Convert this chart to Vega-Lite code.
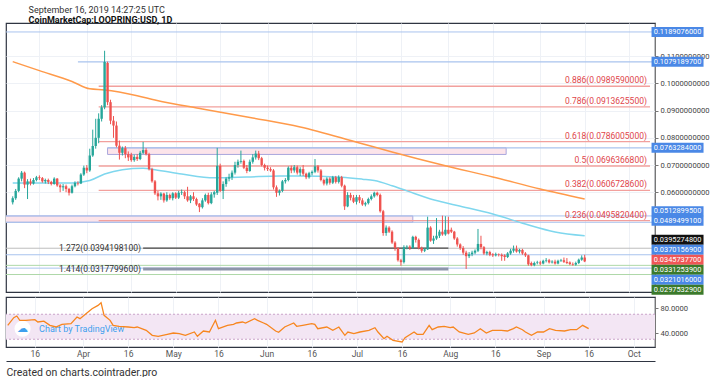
{
"$schema":"https://vega.github.io/schema/vega-lite/v6.json",
"background":"white",
"padding":{"left":4,"top":6,"right":0,"bottom":0},
"title":{"text":"September 16, 2019 14:27:25 UTC","subtitle":"CoinMarketCap:LOOPRING:USD, 1D","anchor":"start","dx":24,"fontSize":9,"fontWeight":"normal","color":"#333","subtitleFontSize":9,"subtitleFontWeight":"bold","subtitleColor":"#111","subtitlePadding":1,"offset":-3,"font":"Roboto","subtitleFont":"Roboto"},
"config":{"font":"Roboto","view":{"stroke":"#2f3542","strokeWidth":1.2},"axis":{"labelFont":"Roboto","titleFont":"Roboto"}},
"spacing":0,
"datasets":{
"candles":[
{"d":"2019-03-07","o":0.0563,"h":0.0585,"l":0.0555,"c":0.0578},
{"d":"2019-03-08","o":0.0578,"h":0.0612,"l":0.0572,"c":0.0605},
{"d":"2019-03-09","o":0.0605,"h":0.0655,"l":0.0600,"c":0.0650},
{"d":"2019-03-10","o":0.0650,"h":0.0678,"l":0.0640,"c":0.0672},
{"d":"2019-03-11","o":0.0672,"h":0.0676,"l":0.0615,"c":0.0628},
{"d":"2019-03-12","o":0.0628,"h":0.0648,"l":0.0575,"c":0.0640},
{"d":"2019-03-13","o":0.0640,"h":0.0650,"l":0.0625,"c":0.0632},
{"d":"2019-03-14","o":0.0632,"h":0.0652,"l":0.0628,"c":0.0645},
{"d":"2019-03-15","o":0.0645,"h":0.0660,"l":0.0640,"c":0.0655},
{"d":"2019-03-16","o":0.0655,"h":0.0662,"l":0.0645,"c":0.0652},
{"d":"2019-03-17","o":0.0652,"h":0.0656,"l":0.0635,"c":0.0640},
{"d":"2019-03-18","o":0.0640,"h":0.0650,"l":0.0632,"c":0.0645},
{"d":"2019-03-19","o":0.0645,"h":0.0650,"l":0.0630,"c":0.0638},
{"d":"2019-03-20","o":0.0638,"h":0.0642,"l":0.0625,"c":0.0630},
{"d":"2019-03-21","o":0.0630,"h":0.0655,"l":0.0628,"c":0.0650},
{"d":"2019-03-22","o":0.0650,"h":0.0652,"l":0.0620,"c":0.0625},
{"d":"2019-03-23","o":0.0625,"h":0.0630,"l":0.0600,"c":0.0618},
{"d":"2019-03-24","o":0.0618,"h":0.0630,"l":0.0605,"c":0.0622},
{"d":"2019-03-25","o":0.0622,"h":0.0628,"l":0.0600,"c":0.0612},
{"d":"2019-03-26","o":0.0612,"h":0.0616,"l":0.0588,"c":0.0598},
{"d":"2019-03-27","o":0.0598,"h":0.0628,"l":0.0595,"c":0.0622},
{"d":"2019-03-28","o":0.0622,"h":0.0640,"l":0.0618,"c":0.0634},
{"d":"2019-03-29","o":0.0634,"h":0.0640,"l":0.0625,"c":0.0632},
{"d":"2019-03-30","o":0.0632,"h":0.0670,"l":0.0630,"c":0.0665},
{"d":"2019-03-31","o":0.0665,"h":0.0698,"l":0.0660,"c":0.0690},
{"d":"2019-04-01","o":0.0690,"h":0.0700,"l":0.0670,"c":0.0680},
{"d":"2019-04-02","o":0.0680,"h":0.0760,"l":0.0675,"c":0.0735},
{"d":"2019-04-03","o":0.0735,"h":0.0830,"l":0.0730,"c":0.0770},
{"d":"2019-04-04","o":0.0770,"h":0.0870,"l":0.0760,"c":0.0800},
{"d":"2019-04-05","o":0.0800,"h":0.0890,"l":0.0780,"c":0.0870},
{"d":"2019-04-06","o":0.0870,"h":0.0920,"l":0.0860,"c":0.0912},
{"d":"2019-04-07","o":0.0912,"h":0.1120,"l":0.0905,"c":0.1079},
{"d":"2019-04-08","o":0.1075,"h":0.1080,"l":0.0920,"c":0.0931},
{"d":"2019-04-09","o":0.0931,"h":0.0940,"l":0.0850,"c":0.0863},
{"d":"2019-04-10","o":0.0863,"h":0.0880,"l":0.0800,"c":0.0845},
{"d":"2019-04-11","o":0.0845,"h":0.0860,"l":0.0765,"c":0.0771},
{"d":"2019-04-12","o":0.0771,"h":0.0790,"l":0.0720,"c":0.0745},
{"d":"2019-04-13","o":0.0745,"h":0.0768,"l":0.0735,"c":0.0762},
{"d":"2019-04-14","o":0.0762,"h":0.0770,"l":0.0725,"c":0.0740},
{"d":"2019-04-15","o":0.0740,"h":0.0750,"l":0.0715,"c":0.0728},
{"d":"2019-04-16","o":0.0738,"h":0.0745,"l":0.0712,"c":0.0718},
{"d":"2019-04-17","o":0.0718,"h":0.0738,"l":0.0712,"c":0.0730},
{"d":"2019-04-18","o":0.0730,"h":0.0740,"l":0.0715,"c":0.0722},
{"d":"2019-04-19","o":0.0722,"h":0.0752,"l":0.0718,"c":0.0745},
{"d":"2019-04-20","o":0.0745,"h":0.0785,"l":0.0740,"c":0.0755},
{"d":"2019-04-21","o":0.0755,"h":0.0762,"l":0.0735,"c":0.0740},
{"d":"2019-04-22","o":0.0740,"h":0.0745,"l":0.0680,"c":0.0685},
{"d":"2019-04-23","o":0.0685,"h":0.0690,"l":0.0635,"c":0.0640},
{"d":"2019-04-24","o":0.0640,"h":0.0645,"l":0.0590,"c":0.0596},
{"d":"2019-04-25","o":0.0596,"h":0.0605,"l":0.0570,"c":0.0585},
{"d":"2019-04-26","o":0.0585,"h":0.0600,"l":0.0572,"c":0.0595},
{"d":"2019-04-27","o":0.0595,"h":0.0598,"l":0.0562,"c":0.0570},
{"d":"2019-04-28","o":0.0570,"h":0.0600,"l":0.0565,"c":0.0590},
{"d":"2019-04-29","o":0.0590,"h":0.0595,"l":0.0572,"c":0.0578},
{"d":"2019-04-30","o":0.0578,"h":0.0600,"l":0.0570,"c":0.0596},
{"d":"2019-05-01","o":0.0596,"h":0.0600,"l":0.0575,"c":0.0580},
{"d":"2019-05-02","o":0.0580,"h":0.0605,"l":0.0575,"c":0.0598},
{"d":"2019-05-03","o":0.0598,"h":0.0610,"l":0.0590,"c":0.0600},
{"d":"2019-05-04","o":0.0600,"h":0.0605,"l":0.0575,"c":0.0585},
{"d":"2019-05-05","o":0.0585,"h":0.0620,"l":0.0565,"c":0.0570},
{"d":"2019-05-06","o":0.0570,"h":0.0590,"l":0.0560,"c":0.0585},
{"d":"2019-05-07","o":0.0585,"h":0.0600,"l":0.0568,"c":0.0575},
{"d":"2019-05-08","o":0.0575,"h":0.0580,"l":0.0550,"c":0.0555},
{"d":"2019-05-09","o":0.0558,"h":0.0560,"l":0.0527,"c":0.0545},
{"d":"2019-05-10","o":0.0545,"h":0.0578,"l":0.0540,"c":0.0570},
{"d":"2019-05-11","o":0.0570,"h":0.0595,"l":0.0565,"c":0.0590},
{"d":"2019-05-12","o":0.0590,"h":0.0598,"l":0.0555,"c":0.0560},
{"d":"2019-05-13","o":0.0560,"h":0.0600,"l":0.0556,"c":0.0592},
{"d":"2019-05-14","o":0.0592,"h":0.0605,"l":0.0580,"c":0.0600},
{"d":"2019-05-15","o":0.0598,"h":0.0763,"l":0.0590,"c":0.0697},
{"d":"2019-05-16","o":0.0697,"h":0.0705,"l":0.0600,"c":0.0605},
{"d":"2019-05-17","o":0.0605,"h":0.0640,"l":0.0575,"c":0.0630},
{"d":"2019-05-18","o":0.0630,"h":0.0655,"l":0.0620,"c":0.0650},
{"d":"2019-05-19","o":0.0650,"h":0.0668,"l":0.0640,"c":0.0655},
{"d":"2019-05-20","o":0.0655,"h":0.0680,"l":0.0645,"c":0.0672},
{"d":"2019-05-21","o":0.0672,"h":0.0712,"l":0.0665,"c":0.0700},
{"d":"2019-05-22","o":0.0700,"h":0.0720,"l":0.0690,"c":0.0712},
{"d":"2019-05-23","o":0.0712,"h":0.0753,"l":0.0705,"c":0.0715},
{"d":"2019-05-24","o":0.0715,"h":0.0720,"l":0.0685,"c":0.0690},
{"d":"2019-05-25","o":0.0690,"h":0.0700,"l":0.0670,"c":0.0678},
{"d":"2019-05-26","o":0.0678,"h":0.0720,"l":0.0675,"c":0.0712},
{"d":"2019-05-27","o":0.0712,"h":0.0740,"l":0.0705,"c":0.0728},
{"d":"2019-05-28","o":0.0728,"h":0.0753,"l":0.0720,"c":0.0742},
{"d":"2019-05-29","o":0.0742,"h":0.0752,"l":0.0718,"c":0.0725},
{"d":"2019-05-30","o":0.0725,"h":0.0730,"l":0.0695,"c":0.0700},
{"d":"2019-05-31","o":0.0700,"h":0.0705,"l":0.0680,"c":0.0690},
{"d":"2019-06-01","o":0.0690,"h":0.0698,"l":0.0678,"c":0.0685},
{"d":"2019-06-02","o":0.0685,"h":0.0692,"l":0.0675,"c":0.0680},
{"d":"2019-06-03","o":0.0680,"h":0.0685,"l":0.0610,"c":0.0618},
{"d":"2019-06-04","o":0.0618,"h":0.0625,"l":0.0583,"c":0.0598},
{"d":"2019-06-05","o":0.0598,"h":0.0610,"l":0.0588,"c":0.0605},
{"d":"2019-06-06","o":0.0605,"h":0.0645,"l":0.0600,"c":0.0640},
{"d":"2019-06-07","o":0.0640,"h":0.0652,"l":0.0632,"c":0.0645},
{"d":"2019-06-08","o":0.0645,"h":0.0695,"l":0.0640,"c":0.0690},
{"d":"2019-06-09","o":0.0690,"h":0.0698,"l":0.0670,"c":0.0680},
{"d":"2019-06-10","o":0.0680,"h":0.0700,"l":0.0672,"c":0.0692},
{"d":"2019-06-11","o":0.0692,"h":0.0698,"l":0.0665,"c":0.0672},
{"d":"2019-06-12","o":0.0672,"h":0.0692,"l":0.0660,"c":0.0685},
{"d":"2019-06-13","o":0.0685,"h":0.0700,"l":0.0660,"c":0.0668},
{"d":"2019-06-14","o":0.0668,"h":0.0672,"l":0.0648,"c":0.0655},
{"d":"2019-06-15","o":0.0655,"h":0.0675,"l":0.0650,"c":0.0670},
{"d":"2019-06-16","o":0.0670,"h":0.0680,"l":0.0662,"c":0.0675},
{"d":"2019-06-17","o":0.0675,"h":0.0722,"l":0.0670,"c":0.0695},
{"d":"2019-06-18","o":0.0695,"h":0.0700,"l":0.0672,"c":0.0680},
{"d":"2019-06-19","o":0.0680,"h":0.0685,"l":0.0640,"c":0.0645},
{"d":"2019-06-20","o":0.0645,"h":0.0650,"l":0.0625,"c":0.0632},
{"d":"2019-06-21","o":0.0632,"h":0.0655,"l":0.0625,"c":0.0650},
{"d":"2019-06-22","o":0.0650,"h":0.0655,"l":0.0628,"c":0.0635},
{"d":"2019-06-23","o":0.0635,"h":0.0660,"l":0.0630,"c":0.0655},
{"d":"2019-06-24","o":0.0655,"h":0.0660,"l":0.0632,"c":0.0638},
{"d":"2019-06-25","o":0.0638,"h":0.0662,"l":0.0632,"c":0.0655},
{"d":"2019-06-26","o":0.0655,"h":0.0660,"l":0.0618,"c":0.0624},
{"d":"2019-06-27","o":0.0624,"h":0.0628,"l":0.0535,"c":0.0548},
{"d":"2019-06-28","o":0.0548,"h":0.0600,"l":0.0545,"c":0.0590},
{"d":"2019-06-29","o":0.0590,"h":0.0598,"l":0.0570,"c":0.0580},
{"d":"2019-06-30","o":0.0580,"h":0.0590,"l":0.0560,"c":0.0565},
{"d":"2019-07-01","o":0.0565,"h":0.0590,"l":0.0555,"c":0.0582},
{"d":"2019-07-02","o":0.0582,"h":0.0590,"l":0.0560,"c":0.0570},
{"d":"2019-07-03","o":0.0570,"h":0.0578,"l":0.0550,"c":0.0555},
{"d":"2019-07-04","o":0.0555,"h":0.0565,"l":0.0548,"c":0.0560},
{"d":"2019-07-05","o":0.0560,"h":0.0580,"l":0.0555,"c":0.0575},
{"d":"2019-07-06","o":0.0575,"h":0.0592,"l":0.0570,"c":0.0585},
{"d":"2019-07-07","o":0.0585,"h":0.0602,"l":0.0580,"c":0.0598},
{"d":"2019-07-08","o":0.0598,"h":0.0602,"l":0.0585,"c":0.0590},
{"d":"2019-07-09","o":0.0590,"h":0.0595,"l":0.0525,"c":0.0530},
{"d":"2019-07-10","o":0.0530,"h":0.0535,"l":0.0440,"c":0.0450},
{"d":"2019-07-11","o":0.0450,"h":0.0478,"l":0.0440,"c":0.0470},
{"d":"2019-07-12","o":0.0470,"h":0.0475,"l":0.0450,"c":0.0455},
{"d":"2019-07-13","o":0.0455,"h":0.0460,"l":0.0410,"c":0.0415},
{"d":"2019-07-14","o":0.0415,"h":0.0420,"l":0.0385,"c":0.0395},
{"d":"2019-07-15","o":0.0395,"h":0.0398,"l":0.0345,"c":0.0350},
{"d":"2019-07-16","o":0.0350,"h":0.0355,"l":0.0330,"c":0.0343},
{"d":"2019-07-17","o":0.0343,"h":0.0405,"l":0.0338,"c":0.0398},
{"d":"2019-07-18","o":0.0398,"h":0.0405,"l":0.0390,"c":0.0400},
{"d":"2019-07-19","o":0.0400,"h":0.0405,"l":0.0388,"c":0.0395},
{"d":"2019-07-20","o":0.0395,"h":0.0440,"l":0.0392,"c":0.0436},
{"d":"2019-07-21","o":0.0436,"h":0.0440,"l":0.0415,"c":0.0425},
{"d":"2019-07-22","o":0.0425,"h":0.0430,"l":0.0390,"c":0.0395},
{"d":"2019-07-23","o":0.0395,"h":0.0400,"l":0.0378,"c":0.0385},
{"d":"2019-07-24","o":0.0385,"h":0.0395,"l":0.0380,"c":0.0390},
{"d":"2019-07-25","o":0.0390,"h":0.0510,"l":0.0388,"c":0.0470},
{"d":"2019-07-26","o":0.0470,"h":0.0475,"l":0.0418,"c":0.0422},
{"d":"2019-07-27","o":0.0422,"h":0.0440,"l":0.0410,"c":0.0430},
{"d":"2019-07-28","o":0.0430,"h":0.0505,"l":0.0425,"c":0.0440},
{"d":"2019-07-29","o":0.0440,"h":0.0462,"l":0.0432,"c":0.0455},
{"d":"2019-07-30","o":0.0455,"h":0.0514,"l":0.0440,"c":0.0445},
{"d":"2019-07-31","o":0.0445,"h":0.0512,"l":0.0440,"c":0.0462},
{"d":"2019-08-01","o":0.0462,"h":0.0510,"l":0.0445,"c":0.0448},
{"d":"2019-08-02","o":0.0462,"h":0.0470,"l":0.0450,"c":0.0455},
{"d":"2019-08-03","o":0.0455,"h":0.0458,"l":0.0425,"c":0.0430},
{"d":"2019-08-04","o":0.0430,"h":0.0435,"l":0.0400,"c":0.0408},
{"d":"2019-08-05","o":0.0408,"h":0.0412,"l":0.0388,"c":0.0395},
{"d":"2019-08-06","o":0.0395,"h":0.0402,"l":0.0370,"c":0.0378},
{"d":"2019-08-07","o":0.0378,"h":0.0385,"l":0.0318,"c":0.0365},
{"d":"2019-08-08","o":0.0365,"h":0.0380,"l":0.0358,"c":0.0372},
{"d":"2019-08-09","o":0.0372,"h":0.0385,"l":0.0365,"c":0.0378},
{"d":"2019-08-10","o":0.0378,"h":0.0390,"l":0.0372,"c":0.0385},
{"d":"2019-08-11","o":0.0385,"h":0.0465,"l":0.0380,"c":0.0410},
{"d":"2019-08-12","o":0.0410,"h":0.0440,"l":0.0390,"c":0.0398},
{"d":"2019-08-13","o":0.0398,"h":0.0402,"l":0.0370,"c":0.0375},
{"d":"2019-08-14","o":0.0375,"h":0.0385,"l":0.0368,"c":0.0380},
{"d":"2019-08-15","o":0.0380,"h":0.0385,"l":0.0365,"c":0.0370},
{"d":"2019-08-16","o":0.0372,"h":0.0376,"l":0.0362,"c":0.0368},
{"d":"2019-08-17","o":0.0368,"h":0.0378,"l":0.0364,"c":0.0372},
{"d":"2019-08-18","o":0.0372,"h":0.0375,"l":0.0364,"c":0.0370},
{"d":"2019-08-19","o":0.0370,"h":0.0375,"l":0.0348,"c":0.0365},
{"d":"2019-08-20","o":0.0368,"h":0.0372,"l":0.0348,"c":0.0362},
{"d":"2019-08-21","o":0.0362,"h":0.0380,"l":0.0358,"c":0.0375},
{"d":"2019-08-22","o":0.0375,"h":0.0392,"l":0.0370,"c":0.0385},
{"d":"2019-08-23","o":0.0385,"h":0.0404,"l":0.0378,"c":0.0392},
{"d":"2019-08-24","o":0.0392,"h":0.0404,"l":0.0378,"c":0.0382},
{"d":"2019-08-25","o":0.0382,"h":0.0392,"l":0.0375,"c":0.0388},
{"d":"2019-08-26","o":0.0388,"h":0.0392,"l":0.0370,"c":0.0375},
{"d":"2019-08-27","o":0.0375,"h":0.0380,"l":0.0362,"c":0.0368},
{"d":"2019-08-28","o":0.0368,"h":0.0370,"l":0.0330,"c":0.0335},
{"d":"2019-08-29","o":0.0340,"h":0.0345,"l":0.0328,"c":0.0332},
{"d":"2019-08-30","o":0.0332,"h":0.0345,"l":0.0328,"c":0.0340},
{"d":"2019-08-31","o":0.0340,"h":0.0348,"l":0.0335,"c":0.0342},
{"d":"2019-09-01","o":0.0342,"h":0.0348,"l":0.0332,"c":0.0338},
{"d":"2019-09-02","o":0.0338,"h":0.0352,"l":0.0335,"c":0.0348},
{"d":"2019-09-03","o":0.0348,"h":0.0358,"l":0.0342,"c":0.0350},
{"d":"2019-09-04","o":0.0350,"h":0.0355,"l":0.0338,"c":0.0342},
{"d":"2019-09-05","o":0.0342,"h":0.0350,"l":0.0338,"c":0.0345},
{"d":"2019-09-06","o":0.0345,"h":0.0352,"l":0.0334,"c":0.0338},
{"d":"2019-09-07","o":0.0338,"h":0.0352,"l":0.0335,"c":0.0348},
{"d":"2019-09-08","o":0.0348,"h":0.0355,"l":0.0344,"c":0.0350},
{"d":"2019-09-09","o":0.0350,"h":0.0360,"l":0.0340,"c":0.0344},
{"d":"2019-09-10","o":0.0344,"h":0.0358,"l":0.0336,"c":0.0340},
{"d":"2019-09-11","o":0.0342,"h":0.0346,"l":0.0332,"c":0.0336},
{"d":"2019-09-12","o":0.0336,"h":0.0342,"l":0.0330,"c":0.0334},
{"d":"2019-09-13","o":0.0334,"h":0.0345,"l":0.0330,"c":0.0340},
{"d":"2019-09-14","o":0.0340,"h":0.0356,"l":0.0336,"c":0.0352},
{"d":"2019-09-15","o":0.0352,"h":0.0368,"l":0.0348,"c":0.0360},
{"d":"2019-09-16","o":0.0360,"h":0.0370,"l":0.0343,"c":0.03457}
],
"ma":[
{"d":"2019-03-07","v":0.1080,"k":"slow"},{"d":"2019-03-16","v":0.1047,"k":"slow"},{"d":"2019-03-27","v":0.1007,"k":"slow"},{"d":"2019-04-02","v":0.0980,"k":"slow"},{"d":"2019-04-07","v":0.0976,"k":"slow"},{"d":"2019-04-18","v":0.0955,"k":"slow"},{"d":"2019-04-24","v":0.0939,"k":"slow"},{"d":"2019-05-10","v":0.0906,"k":"slow"},{"d":"2019-05-27","v":0.0873,"k":"slow"},{"d":"2019-06-12","v":0.0840,"k":"slow"},{"d":"2019-07-02","v":0.0781,"k":"slow"},{"d":"2019-07-13","v":0.0748,"k":"slow"},{"d":"2019-07-30","v":0.0700,"k":"slow"},{"d":"2019-08-16","v":0.0656,"k":"slow"},{"d":"2019-09-01","v":0.0612,"k":"slow"},{"d":"2019-09-16","v":0.0575,"k":"slow"},
{"d":"2019-03-07","v":0.0634,"k":"fast"},{"d":"2019-03-27","v":0.0634,"k":"fast"},{"d":"2019-04-02","v":0.0643,"k":"fast"},{"d":"2019-04-07","v":0.0667,"k":"fast"},{"d":"2019-04-13","v":0.0683,"k":"fast"},{"d":"2019-04-20","v":0.0688,"k":"fast"},{"d":"2019-04-24","v":0.0683,"k":"fast"},{"d":"2019-05-03","v":0.0667,"k":"fast"},{"d":"2019-05-14","v":0.0653,"k":"fast"},{"d":"2019-05-25","v":0.0656,"k":"fast"},{"d":"2019-06-05","v":0.0660,"k":"fast"},{"d":"2019-06-11","v":0.0660,"k":"fast"},{"d":"2019-06-26","v":0.0655,"k":"fast"},{"d":"2019-07-03","v":0.0648,"k":"fast"},{"d":"2019-07-07","v":0.0643,"k":"fast"},{"d":"2019-07-13","v":0.0624,"k":"fast"},{"d":"2019-07-18","v":0.0605,"k":"fast"},{"d":"2019-07-26","v":0.0575,"k":"fast"},{"d":"2019-07-30","v":0.0564,"k":"fast"},{"d":"2019-08-04","v":0.0551,"k":"fast"},{"d":"2019-08-16","v":0.0520,"k":"fast"},{"d":"2019-08-27","v":0.0483,"k":"fast"},{"d":"2019-09-06","v":0.0454,"k":"fast"},{"d":"2019-09-16","v":0.0440,"k":"fast"}
],
"boxes":[
{"top":0.0763284,"bot":0.07389,"from":"2019-04-08","to":"2019-08-20T12:00:00Z"},
{"top":0.0512900,"bot":0.0489499,"from":"2019-03-01","to":"2019-07-20"}
],
"fulllines":[
{"p":0.1189076,"k":"blue"},{"p":0.0512900,"k":"blue"},{"p":0.0489499,"k":"blue"},{"p":0.0394198,"k":"gray"},{"p":0.0370157,"k":"blue"},{"p":0.0331254,"k":"green"},{"p":0.0321016,"k":"blue"},{"p":0.0297533,"k":"green"}
],
"partlines":[
{"p":0.1079190,"from":"2019-03-29","to":"2019-10-31","k":"blue"},
{"p":0.0763284,"from":"2019-04-08","to":"2019-10-31","k":"blue"},
{"p":0.0394198,"from":"2019-04-20","to":"2019-08-01","k":"dark"}
],
"thicklines":[
{"p":0.0317800,"from":"2019-04-20","to":"2019-08-01"}
],
"fib":[
{"label":"0.886(0.0989590000)","p":0.0989590},
{"label":"0.786(0.0913625500)","p":0.0913626},
{"label":"0.618(0.0786005000)","p":0.0786005},
{"label":"0.5(0.0696366800)","p":0.0696367},
{"label":"0.382(0.0606728600)","p":0.0606729},
{"label":"0.236(0.0495820400)","p":0.0495820}
],
"ext":[
{"label":"1.272(0.0394198100)","p":0.0394198},
{"label":"1.414(0.0317799600)","p":0.0317800}
],
"tags":[
{"v":"0.1189076000","at":0.1189076,"k":"blue"},
{"v":"0.1079189700","at":0.1079190,"k":"blue"},
{"v":"0.0763284000","at":0.0763284,"k":"blue"},
{"v":"0.0512899500","at":0.0530,"k":"blue"},
{"v":"0.0489499100","at":0.04955,"k":"blue"},
{"v":"0.0395274800","at":0.04256,"k":"black"},
{"v":"0.0370156900","at":0.03889,"k":"blue"},
{"v":"0.0345737700","at":0.03521,"k":"red"},
{"v":"0.0331253900","at":0.03153,"k":"green"},
{"v":"0.0321016000","at":0.02786,"k":"blue"},
{"v":"0.0297532900","at":0.02418,"k":"green"}
],
"rsi":[
{"d":"2019-03-07","v":52.3},{"d":"2019-03-09","v":64.5},{"d":"2019-03-10","v":67.2},{"d":"2019-03-11","v":60.3},{"d":"2019-03-13","v":60.3},{"d":"2019-03-16","v":61.3},{"d":"2019-03-17","v":57.6},{"d":"2019-03-19","v":59},{"d":"2019-03-21","v":52.3},{"d":"2019-03-23","v":49.6},{"d":"2019-03-25","v":53.9},{"d":"2019-03-28","v":55},{"d":"2019-03-30","v":65.6},{"d":"2019-03-31","v":62.9},{"d":"2019-04-02","v":70.9},{"d":"2019-04-04","v":78.9},{"d":"2019-04-06","v":84.2},{"d":"2019-04-07","v":88.5},{"d":"2019-04-08","v":68.3},{"d":"2019-04-10","v":60.3},{"d":"2019-04-11","v":52.3},{"d":"2019-04-13","v":50.7},{"d":"2019-04-16","v":49.6},{"d":"2019-04-18","v":48.5},{"d":"2019-04-19","v":49.6},{"d":"2019-04-22","v":44.3},{"d":"2019-04-24","v":36.3},{"d":"2019-04-26","v":34.7},{"d":"2019-04-29","v":37.9},{"d":"2019-05-01","v":40},{"d":"2019-05-03","v":38.9},{"d":"2019-05-05","v":36.3},{"d":"2019-05-08","v":41.6},{"d":"2019-05-09","v":34.7},{"d":"2019-05-11","v":43.2},{"d":"2019-05-13","v":41.6},{"d":"2019-05-15","v":60.3},{"d":"2019-05-16","v":46.9},{"d":"2019-05-19","v":52.3},{"d":"2019-05-21","v":53.9},{"d":"2019-05-22","v":56},{"d":"2019-05-24","v":57.6},{"d":"2019-05-25","v":56},{"d":"2019-05-28","v":62.9},{"d":"2019-05-29","v":60.3},{"d":"2019-05-31","v":56},{"d":"2019-06-01","v":53.9},{"d":"2019-06-04","v":43.2},{"d":"2019-06-05","v":41.1},{"d":"2019-06-07","v":49.6},{"d":"2019-06-10","v":56},{"d":"2019-06-11","v":50.7},{"d":"2019-06-13","v":52.3},{"d":"2019-06-16","v":54.9},{"d":"2019-06-17","v":53.9},{"d":"2019-06-18","v":46.9},{"d":"2019-06-21","v":49.6},{"d":"2019-06-23","v":44.3},{"d":"2019-06-25","v":49.6},{"d":"2019-06-27","v":36.3},{"d":"2019-06-28","v":41.6},{"d":"2019-06-30","v":38.9},{"d":"2019-07-02","v":41.6},{"d":"2019-07-05","v":44.3},{"d":"2019-07-07","v":48.5},{"d":"2019-07-08","v":41.6},{"d":"2019-07-10","v":30.9},{"d":"2019-07-11","v":34.7},{"d":"2019-07-13","v":28.3},{"d":"2019-07-16","v":25.6},{"d":"2019-07-17","v":32.5},{"d":"2019-07-20","v":41.6},{"d":"2019-07-21","v":37.9},{"d":"2019-07-23","v":37.9},{"d":"2019-07-25","v":52.3},{"d":"2019-07-26","v":45.3},{"d":"2019-07-28","v":49.6},{"d":"2019-07-30","v":50.7},{"d":"2019-08-01","v":48.5},{"d":"2019-08-02","v":49.6},{"d":"2019-08-04","v":41.6},{"d":"2019-08-07","v":37.9},{"d":"2019-08-09","v":40},{"d":"2019-08-11","v":46.9},{"d":"2019-08-13","v":40},{"d":"2019-08-15","v":44.3},{"d":"2019-08-18","v":44.3},{"d":"2019-08-20","v":43.2},{"d":"2019-08-22","v":46.9},{"d":"2019-08-23","v":49.6},{"d":"2019-08-25","v":45.3},{"d":"2019-08-26","v":41.6},{"d":"2019-08-28","v":36.3},{"d":"2019-08-30","v":41.6},{"d":"2019-09-01","v":41.6},{"d":"2019-09-03","v":46.9},{"d":"2019-09-05","v":44.3},{"d":"2019-09-08","v":43.2},{"d":"2019-09-10","v":45.3},{"d":"2019-09-12","v":45.3},{"d":"2019-09-14","v":52.3},{"d":"2019-09-16","v":46.9}
],
"rsiband":[{"hi":70,"lo":30}],
"rsilines":[{"v":70},{"v":30}],
"wm":[{"text":"Chart by TradingView"}]
},
"vconcat":[
{
"width":649,"height":269,
"resolve":{"scale":{"color":"independent"}},
"layer":[
{"data":{"name":"boxes"},"mark":{"type":"rect","fill":"#fce4ea","stroke":"#a9a6dc","strokeWidth":1,"clip":true},
 "encoding":{
  "x":{"field":"from","type":"temporal","scale":{"type":"utc","domain":[{"year":2019,"month":3,"date":6,"hours":10,"utc":true},{"year":2019,"month":10,"date":8,"hours":1,"utc":true}]},
   "axis":{"values":[{"year":2019,"month":3,"date":16,"utc":true},{"year":2019,"month":4,"date":1,"utc":true},{"year":2019,"month":4,"date":16,"utc":true},{"year":2019,"month":5,"date":1,"utc":true},{"year":2019,"month":5,"date":16,"utc":true},{"year":2019,"month":6,"date":1,"utc":true},{"year":2019,"month":6,"date":16,"utc":true},{"year":2019,"month":7,"date":1,"utc":true},{"year":2019,"month":7,"date":16,"utc":true},{"year":2019,"month":8,"date":1,"utc":true},{"year":2019,"month":8,"date":16,"utc":true},{"year":2019,"month":9,"date":1,"utc":true},{"year":2019,"month":9,"date":16,"utc":true},{"year":2019,"month":10,"date":1,"utc":true}],"labels":false,"ticks":false,"domain":false,"title":null,"grid":true,"gridColor":"#eef1f6"}},
  "x2":{"field":"to"},
  "y":{"field":"top","type":"quantitative","scale":{"domain":[0.02333,0.1222],"zero":false,"nice":false},
   "axis":{"orient":"right","title":null,"values":[0.06,0.07,0.08,0.09,0.1,0.11],"format":".10f","grid":true,"gridColor":"#eef1f6","domainColor":"#777","tickColor":"#777","tickSize":3,"labelFontSize":7.6,"labelColor":"#444","labelPadding":2}},
  "y2":{"field":"bot"}}},
{"data":{"name":"fulllines"},"mark":{"type":"rule","strokeWidth":1},
 "encoding":{"y":{"field":"p","type":"quantitative"},
  "color":{"field":"k","type":"nominal","scale":{"domain":["blue","green","gray"],"range":["#a9c3ee","#aed8a8","#bdbdbd"]},"legend":null}}},
{"data":{"name":"partlines"},"mark":{"type":"rule","strokeWidth":1.2,"clip":true},
 "encoding":{"x":{"field":"from","type":"temporal"},"x2":{"field":"to"},"y":{"field":"p","type":"quantitative"},
  "color":{"field":"k","type":"nominal","scale":{"domain":["blue","dark"],"range":["#a9c3ee","#4a4a4a"]},"legend":null}}},
{"data":{"name":"thicklines"},"mark":{"type":"rule","strokeWidth":3,"color":"#8e95aa"},
 "encoding":{"x":{"field":"from","type":"temporal"},"x2":{"field":"to"},"y":{"field":"p","type":"quantitative"}}},
{"data":{"name":"fib"},"mark":{"type":"rule","strokeWidth":1.4,"color":"#f2a09d"},
 "encoding":{"x":{"datum":{"year":2019,"month":4,"date":5,"utc":true},"type":"temporal"},"x2":{"datum":{"year":2019,"month":10,"date":8,"hours":1,"utc":true}},"y":{"field":"p","type":"quantitative"}}},
{"data":{"name":"ma"},"mark":{"type":"line","strokeWidth":1.5,"interpolate":"monotone"},
 "encoding":{"x":{"field":"d","type":"temporal"},"y":{"field":"v","type":"quantitative"},
  "color":{"field":"k","type":"nominal","scale":{"domain":["slow","fast"],"range":["#ff9a4a","#7fd7ee"]},"legend":null}}},
{"data":{"name":"candles"},"mark":{"type":"rule","strokeWidth":1},
 "encoding":{"x":{"field":"d","type":"temporal"},"y":{"field":"l","type":"quantitative"},"y2":{"field":"h"},
  "color":{"condition":{"test":"datum.c >= datum.o","value":"#26a69a"},"value":"#ef5350"}}},
{"data":{"name":"candles"},"mark":{"type":"bar","size":2.4},
 "encoding":{"x":{"field":"d","type":"temporal"},"y":{"field":"o","type":"quantitative"},"y2":{"field":"c"},
  "color":{"condition":{"test":"datum.c >= datum.o","value":"#26a69a"},"value":"#ef5350"}}},
{"data":{"name":"fib"},"mark":{"type":"text","align":"right","baseline":"alphabetic","dy":-3,"fontSize":8.5,"color":"#e0454a"},
 "encoding":{"x":{"datum":{"year":2019,"month":10,"date":7,"utc":true},"type":"temporal"},"y":{"field":"p","type":"quantitative"},"text":{"field":"label"}}},
{"data":{"name":"ext"},"mark":{"type":"text","align":"right","baseline":"middle","fontSize":8.5,"color":"#333"},
 "encoding":{"x":{"datum":{"year":2019,"month":4,"date":19,"hours":6,"utc":true},"type":"temporal"},"y":{"field":"p","type":"quantitative"},"text":{"field":"label"}}},
{"data":{"name":"tags"},"mark":{"type":"tick","orient":"horizontal","size":52,"thickness":10,"opacity":1},
 "encoding":{"x":{"datum":{"year":2019,"month":10,"date":17,"hours":8,"utc":true},"type":"temporal"},"y":{"field":"at","type":"quantitative"},
  "color":{"field":"k","type":"nominal","scale":{"domain":["blue","black","red","green"],"range":["#4a88e6","#111111","#f05656","#3b7a2b"]},"legend":null}}},
{"data":{"name":"tags"},"mark":{"type":"text","align":"center","baseline":"middle","fontSize":7.4,"color":"white"},
 "encoding":{"x":{"datum":{"year":2019,"month":10,"date":17,"hours":8,"utc":true},"type":"temporal"},"y":{"field":"at","type":"quantitative"},"text":{"field":"v"}}}
]
},
{
"width":649,"height":50,
"layer":[
{"data":{"name":"rsiband"},"mark":{"type":"rect","color":"#f3e6f4"},
 "encoding":{
  "x":{"datum":{"year":2019,"month":3,"date":6,"hours":10,"utc":true},"type":"temporal","scale":{"type":"utc","domain":[{"year":2019,"month":3,"date":6,"hours":10,"utc":true},{"year":2019,"month":10,"date":8,"hours":1,"utc":true}]},
   "axis":{"values":[{"year":2019,"month":3,"date":16,"utc":true},{"year":2019,"month":4,"date":1,"utc":true},{"year":2019,"month":4,"date":16,"utc":true},{"year":2019,"month":5,"date":1,"utc":true},{"year":2019,"month":5,"date":16,"utc":true},{"year":2019,"month":6,"date":1,"utc":true},{"year":2019,"month":6,"date":16,"utc":true},{"year":2019,"month":7,"date":1,"utc":true},{"year":2019,"month":7,"date":16,"utc":true},{"year":2019,"month":8,"date":1,"utc":true},{"year":2019,"month":8,"date":16,"utc":true},{"year":2019,"month":9,"date":1,"utc":true},{"year":2019,"month":9,"date":16,"utc":true},{"year":2019,"month":10,"date":1,"utc":true}],
    "labelExpr":"utcdate(datum.value) == 1 ? utcFormat(datum.value, '%b') : utcFormat(datum.value, '%d')",
    "grid":true,"gridColor":"#eef1f6","domain":true,"domainColor":"#2f3542","domainWidth":1.2,"offset":14,"ticks":false,"labelFontSize":8.5,"labelColor":"#555","labelPadding":-12,
    "title":"Created on charts.cointrader.pro","titleAnchor":"start","titleAlign":"left","titleFontSize":10.5,"titleFontWeight":"normal","titleColor":"#333","titlePadding":6}},
  "x2":{"datum":{"year":2019,"month":10,"date":8,"hours":1,"utc":true}},
  "y":{"field":"hi","type":"quantitative","scale":{"domain":[17.6,97.6],"nice":false,"zero":false},
   "axis":{"orient":"right","title":null,"values":[40,80],"format":".4f","grid":false,"domainColor":"#777","tickColor":"#777","tickSize":3,"labelFontSize":7.6,"labelColor":"#444","labelPadding":2}},
  "y2":{"field":"lo"}}},
{"data":{"name":"rsilines"},"mark":{"type":"rule","color":"#c9a3c9","strokeDash":[2,2],"strokeWidth":1},
 "encoding":{"y":{"field":"v","type":"quantitative"}}},
{"data":{"name":"wm"},"mark":{"type":"point","filled":true,"color":"white","size":260,"opacity":1},
 "encoding":{"x":{"datum":{"year":2019,"month":3,"date":11,"hours":22,"utc":true},"type":"temporal"},"y":{"datum":46.9,"type":"quantitative"}}},
{"data":{"name":"wm"},"mark":{"type":"text","text":"☁","fontSize":11,"color":"#3ea0ee","baseline":"middle","align":"center"},
 "encoding":{"x":{"datum":{"year":2019,"month":3,"date":11,"hours":22,"utc":true},"type":"temporal"},"y":{"datum":46.9,"type":"quantitative"}}},
{"data":{"name":"wm"},"mark":{"type":"text","fontSize":9,"color":"#3ea0ee","baseline":"middle","align":"left"},
 "encoding":{"x":{"datum":{"year":2019,"month":3,"date":17,"hours":10,"utc":true},"type":"temporal"},"y":{"datum":46.9,"type":"quantitative"},"text":{"field":"text"}}},
{"data":{"name":"rsi"},"mark":{"type":"line","color":"#f7861f","strokeWidth":1.3},
 "encoding":{"x":{"field":"d","type":"temporal"},"y":{"field":"v","type":"quantitative"}}}
]
}
]
}
